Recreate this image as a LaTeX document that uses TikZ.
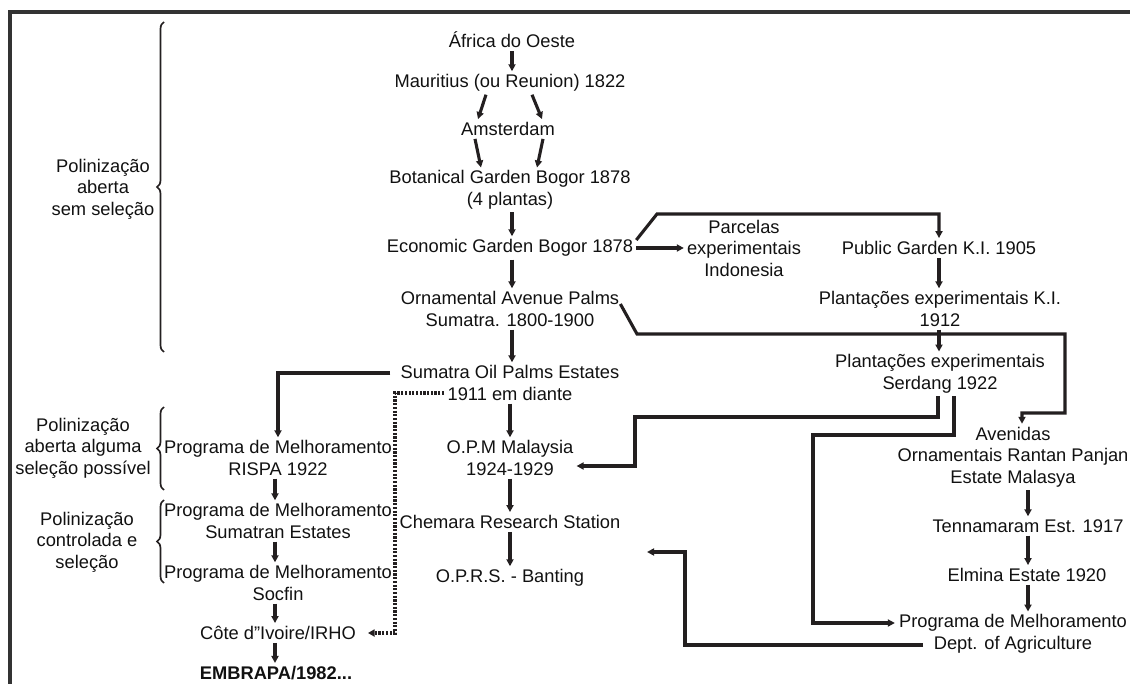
\documentclass[tikz,border=0pt]{standalone}
\usepackage{fontspec}
\setmainfont{Liberation Sans}
\usetikzlibrary{arrows.meta,decorations.pathreplacing,calc}
\definecolor{ln}{HTML}{231F20}
\definecolor{txt}{HTML}{111111}
\begin{document}
\begin{tikzpicture}[x=1pt,y=-1pt,
  every node/.style={font=\fontsize{18.3}{21.5}\selectfont, align=center, inner sep=3pt, text=txt},
  arr/.style={draw=ln, line width=3.1pt, -{Triangle[length=7pt,width=7pt]}},
  dotarr/.style={draw=ln, line width=3.4pt, dash pattern=on 2.2pt off 1.5pt, -{Triangle[length=6.5pt,width=7pt]}},
  br/.style={draw=ln, line width=1.7pt, decorate, decoration={brace,amplitude=7pt}},
]
\useasboundingbox (0,0) rectangle (1130,684);
\draw[line width=3.2pt, draw=black!80] (10,684) -- (10,12) -- (1130,12);

% main column
\node (afr) at (512,40) {África do Oeste};
\node (mau) at (510,83) {Mauritius (ou Reunion) 1822};
\node (ams) at (508,129) {Amsterdam};
\node (bot) at (510,190) {Botanical Garden Bogor 1878\\(4 plantas)};
\node (eco) at (510,248) {Economic Garden Bogor 1878};
\node (orn) at (510,309) {Ornamental Avenue Palms\\Sumatra. 1800-1900};
\node (soe) at (510,383) {Sumatra Oil Palms Estates\\1911 em diante};
\node (opm) at (510,458) {O.P.M Malaysia\\1924-1929};
\node (che) at (510,522) {Chemara Research Station};
\node (oprs) at (510,578) {O.P.R.S. - Banting};

% left column
\node (rispa) at (278,458) {Programa de Melhoramento\\RISPA 1922};
\node (sumest) at (278,521) {Programa de Melhoramento\\Sumatran Estates};
\node (socfin) at (278,583) {Programa de Melhoramento\\Socfin};
\node (cote) at (278,633) {Côte d"Ivoire/IRHO};
\node (embrapa) at (276,673) {\textbf{EMBRAPA/1982...}};

% right part
\node (parc) at (744,248) {Parcelas\\experimentais\\Indonesia};
\node (pub) at (939,248) {Public Garden K.I. 1905};
\node (pki) at (940,309) {Plantações experimentais K.I.\\1912};
\node (serd) at (940,374) {Plantações experimentais\\Serdang 1922};
\node (aven) at (1013,457) {Avenidas\\Ornamentais Rantan Panjan\\Estate Malasya};
\node (tenn) at (1028,526) {Tennamaram Est. 1917};
\node (elm) at (1027,575) {Elmina Estate 1920};
\node (pdept) at (1013,634) {Programa de Melhoramento\\Dept. of Agriculture};

% brace labels
\node (lab1) at (103,189) {Polinização\\aberta\\sem seleção};
\node (lab2) at (83,448) {Polinização\\aberta alguma\\seleção possível};
\node (lab3) at (87,542) {Polinização\\controlada e\\seleção};

\draw[br] (164,352) -- (164,22);
\draw[br] (164,490) -- (164,407);
\draw[br] (164,583) -- (164,500);

\coordinate (oprsin) at (647,552);

% main column arrows
\draw[arr] ([xshift=0pt]afr.south) -- ([xshift=2pt]mau.north);
\draw[arr] ([xshift=-24pt]mau.south) -- ([xshift=-30pt]ams.north);
\draw[arr] ([xshift=22pt]mau.south) -- ([xshift=34pt]ams.north);
\draw[arr] ([xshift=-33pt]ams.south) -- ([xshift=-29pt]bot.north);
\draw[arr] ([xshift=35pt]ams.south) -- ([xshift=27pt]bot.north);
\draw[arr] ([xshift=2pt]bot.south) -- ([xshift=2pt]eco.north);
\draw[arr] ([xshift=2pt]eco.south) -- ([xshift=2pt]orn.north);
\draw[arr] ([xshift=2pt]orn.south) -- ([xshift=2pt]soe.north);
\draw[arr] (soe.south) -- (opm.north);
\draw[arr] (opm.south) -- (che.north);
\draw[arr] (che.south) -- (oprs.north);

% left column arrows
\draw[arr] ([xshift=-3pt]rispa.south) -- ([xshift=-3pt]sumest.north);
\draw[arr] ([xshift=-3pt]sumest.south) -- ([xshift=-3pt]socfin.north);
\draw[arr] ([xshift=-3pt]socfin.south) -- ([xshift=-3pt]cote.north);
\draw[arr] ([xshift=-3pt]cote.south) -- ([xshift=-1pt]embrapa.north);

% right column arrows
\draw[arr] (pub.south) -- ([xshift=-1pt]pki.north);
\draw[arr] ([xshift=-1pt]pki.south) -- ([xshift=-1pt]serd.north);
\draw[arr] ([xshift=15pt]aven.south) -- (tenn.north);
\draw[arr] (tenn.south) -- ([xshift=1pt]elm.north);
\draw[arr] ([xshift=1pt]elm.south) -- ([xshift=15pt]pdept.north);

% cross connectors
\draw[arr] (eco.east) -- (parc.west |- eco.east);
\draw[arr] ([yshift=8pt]eco.east) -- (657,214) -| (pub.north);
\draw[arr] ([xshift=-2pt,yshift=5pt]orn.east) -- (637,334) -- (1065,334) -- (1065,413) -| ([xshift=9pt]aven.north);
\draw[arr] ([xshift=-2pt]serd.south) |- (635,417) |- ([yshift=-8pt]opm.east);
\draw[arr] ([xshift=14pt]serd.south) |- (813,435) |- ([xshift=-1pt,yshift=11pt]pdept.west);
\draw[arr] ($(pdept.center)+(-90,11)$) -- (685,645) |- (oprsin);
\draw[arr] ([xshift=-7pt,yshift=10pt]soe.west) -| (rispa.north);
\draw[dotarr] ($(soe.center)+(-66,10)$) -- (395,393) |- ([xshift=9pt]cote.east);
\end{tikzpicture}
\end{document}
